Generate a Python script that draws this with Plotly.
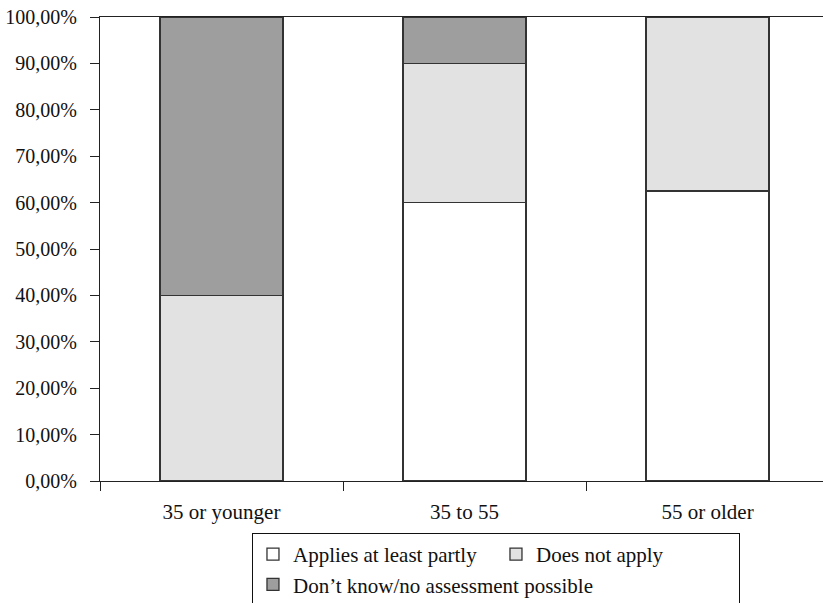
import plotly.graph_objects as go

categories = ["35 or younger", "35 to 55", "55 or older"]
applies = [0.0, 60.0, 62.5]
does_not_apply = [40.0, 30.0, 37.5]
dont_know = [60.0, 10.0, 0.0]
series_names = ["Applies at least partly", "Does not apply", "Don\u2019t know/no assessment possible"]
y_ticks = [0, 10, 20, 30, 40, 50, 60, 70, 80, 90, 100]
y_tick_labels = ["0,00%", "10,00%", "20,00%", "30,00%", "40,00%", "50,00%",
                 "60,00%", "70,00%", "80,00%", "90,00%", "100,00%"]

colors = ["#ffffff", "#e2e2e2", "#9e9e9e"]
FONT = "Liberation Serif"
FS = 21

fig = go.Figure()
for name, vals, col in zip(series_names, [applies, does_not_apply, dont_know], colors):
    fig.add_trace(go.Bar(
        x=categories, y=vals, name=name,
        marker=dict(color=col, line=dict(color="#333333", width=1.3)),
    ))

fig.update_layout(
    width=823, height=603,
    barmode="stack", bargap=0.494,
    plot_bgcolor="white", paper_bgcolor="white",
    margin=dict(l=100, r=0, t=17, b=122, autoexpand=False),
    font=dict(family=FONT, size=FS, color="#111111"),
    showlegend=True,
    legend=dict(
        orientation="h", x=0.2102, xanchor="left", y=-0.112, yanchor="top",
        bordercolor="#111111", borderwidth=1, traceorder="normal",
        font=dict(family=FONT, size=FS, color="#111111"),
        entrywidth=198, entrywidthmode="pixels", itemwidth=30,
    ),
)
fig.update_xaxes(
    type="category", range=[-0.5, 2.475],
    showline=True, linecolor="#222222", linewidth=1.2, mirror=True,
    ticks="outside", tickson="boundaries", ticklen=9, tickcolor="#222222", tickwidth=1.2,
    showgrid=False, ticklabelstandoff=12,
    tickfont=dict(family=FONT, size=FS, color="#111111"),
)
fig.update_yaxes(
    range=[0, 100], tickvals=y_ticks, ticktext=y_tick_labels,
    showline=True, linecolor="#222222", linewidth=1.2,
    ticks="outside", ticklen=9, tickcolor="#222222", tickwidth=1.2,
    showgrid=False, zeroline=False, ticklabelstandoff=9, ticklabeloverflow="allow",
    tickfont=dict(family=FONT, size=20, color="#111111"),
)

fig.write_html(
    "out.html",
    config={"displayModeBar": False},
    post_script="document.body.style.margin='0';document.body.style.overflow='hidden';",
)
